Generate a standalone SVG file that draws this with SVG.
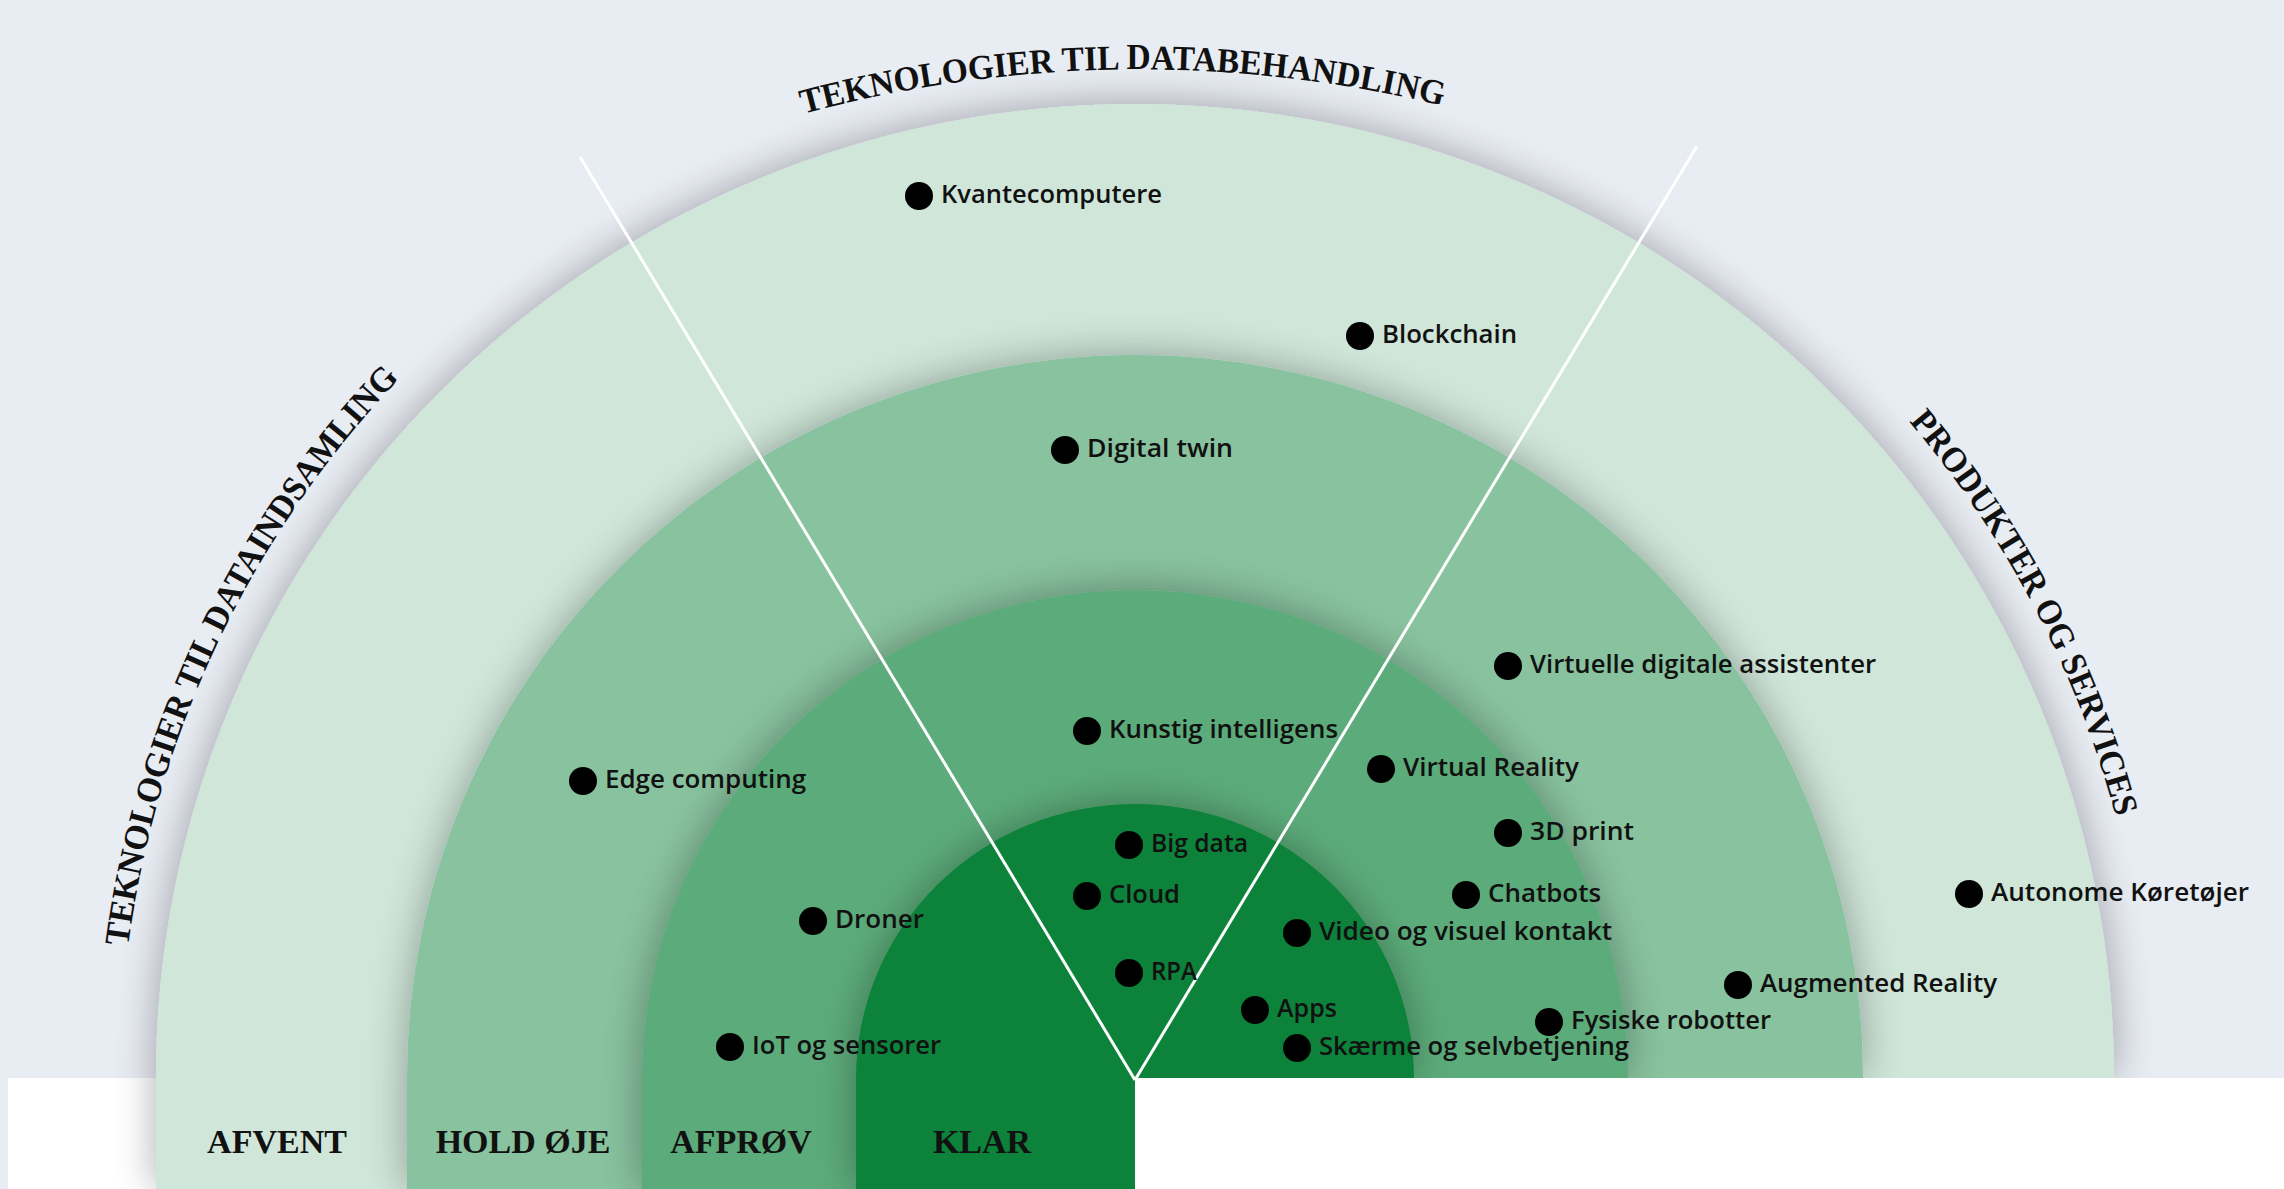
<svg xmlns="http://www.w3.org/2000/svg" width="2284" height="1189" viewBox="0 0 2284 1189">
  <style>
    .lbl { font-family: "Open Sans", "Liberation Sans", sans-serif; font-weight: 600; font-size: 26px; fill: #111; }
    .dot { fill: #000; }
    .ring-name { font-family: "Liberation Serif", "Times New Roman", serif; font-weight: bold; font-size: 34px; fill: #111; text-anchor: middle; }
    .sector { font-family: "Liberation Serif", "Times New Roman", serif; font-weight: bold; font-size: 35px; fill: #111; }
    .divider { stroke: #ffffff; stroke-width: 3; fill: none; }
  </style>
  <defs>
    <filter id="sh" x="-10%" y="-10%" width="120%" height="125%">
      <feGaussianBlur in="SourceAlpha" stdDeviation="21"/>
      <feComponentTransfer><feFuncA type="linear" slope="0.33"/></feComponentTransfer>
      <feMerge><feMergeNode/><feMergeNode in="SourceGraphic"/></feMerge>
    </filter>
    <path id="arcTop" d="M 803.2 113.8 A 1289 1289 0 0 1 1444.4 106.2"/>
    <path id="arcLeft" d="M 128.1 946.4 A 1015 1015 0 0 1 404.9 372.9"/>
    <path id="arcRight" d="M 1909 421.5 A 1015 1015 0 0 1 2115.4 815.6"/>
  </defs>

  <rect x="0" y="0" width="2284" height="1189" fill="#e8ecf3"/>
  <rect x="8" y="1078" width="2276" height="111" fill="#ffffff"/>

  <g id="ring-afvent">
    <path d="M 156 1189 V 1078 A 979 974 0 0 1 2114 1078 H 1135 V 1189 Z" fill="#d0e6d9" filter="url(#sh)"/>
  </g>
  <g id="ring-hold-oeje">
    <path d="M 407 1189 V 1078 A 728 723 0 0 1 1863 1078 H 1135 V 1189 Z" fill="#88c29e" filter="url(#sh)"/>
  </g>
  <g id="ring-afproev">
    <path d="M 642 1189 V 1078 A 493 488 0 0 1 1628 1078 H 1135 V 1189 Z" fill="#5bab7a" filter="url(#sh)"/>
  </g>
  <g id="ring-klar">
    <path d="M 856 1189 V 1078 A 279 274 0 0 1 1414 1078 H 1135 V 1189 Z" fill="#0f823a" filter="url(#sh)"/>
  </g>
  <rect x="1135" y="1078" width="1149" height="111" fill="#ffffff"/>

  <g id="ring-labels">
    <text class="ring-name" x="277" y="1153">AFVENT</text>
    <text class="ring-name" x="523" y="1153">HOLD ØJE</text>
    <text class="ring-name" x="741" y="1153">AFPRØV</text>
    <text class="ring-name" x="982" y="1153">KLAR</text>
  </g>

  <g id="connectors">
    <line class="divider" x1="580" y1="157" x2="1135" y2="1080"/>
    <line class="divider" x1="1697" y1="146" x2="1135" y2="1080"/>
  </g>

  <g id="sectors">
    <text class="sector"><textPath href="#arcTop" textLength="646" lengthAdjust="spacingAndGlyphs">TEKNOLOGIER TIL DATABEHANDLING</textPath></text>
    <text class="sector"><textPath href="#arcLeft" textLength="640" lengthAdjust="spacingAndGlyphs">TEKNOLOGIER TIL DATAINDSAMLING</textPath></text>
    <text class="sector"><textPath href="#arcRight" textLength="450" lengthAdjust="spacingAndGlyphs">PRODUKTER OG SERVICES</textPath></text>
  </g>

  <g id="n-kvantecomputere"><circle class="dot" cx="919" cy="196" r="14"/><text class="lbl" x="941" y="203" textLength="221" lengthAdjust="spacingAndGlyphs">Kvantecomputere</text></g>
  <g id="n-blockchain"><circle class="dot" cx="1360" cy="336" r="14"/><text class="lbl" x="1382" y="343" textLength="135" lengthAdjust="spacingAndGlyphs">Blockchain</text></g>
  <g id="n-digital-twin"><circle class="dot" cx="1065" cy="450" r="14"/><text class="lbl" x="1087" y="457" textLength="146" lengthAdjust="spacingAndGlyphs">Digital twin</text></g>
  <g id="n-virtuelle-digitale-assistenter"><circle class="dot" cx="1508" cy="666" r="14"/><text class="lbl" x="1530" y="673" textLength="346" lengthAdjust="spacingAndGlyphs">Virtuelle digitale assistenter</text></g>
  <g id="n-kunstig-intelligens"><circle class="dot" cx="1087" cy="731" r="14"/><text class="lbl" x="1109" y="738" textLength="229" lengthAdjust="spacingAndGlyphs">Kunstig intelligens</text></g>
  <g id="n-edge-computing"><circle class="dot" cx="583" cy="781" r="14"/><text class="lbl" x="605" y="788" textLength="201" lengthAdjust="spacingAndGlyphs">Edge computing</text></g>
  <g id="n-virtual-reality"><circle class="dot" cx="1381" cy="769" r="14"/><text class="lbl" x="1403" y="776" textLength="176" lengthAdjust="spacingAndGlyphs">Virtual Reality</text></g>
  <g id="n-3d-print"><circle class="dot" cx="1508" cy="833" r="14"/><text class="lbl" x="1530" y="840" textLength="104" lengthAdjust="spacingAndGlyphs">3D print</text></g>
  <g id="n-big-data"><circle class="dot" cx="1129" cy="845" r="14"/><text class="lbl" x="1151" y="852" textLength="97" lengthAdjust="spacingAndGlyphs">Big data</text></g>
  <g id="n-cloud"><circle class="dot" cx="1087" cy="896" r="14"/><text class="lbl" x="1109" y="903" textLength="71" lengthAdjust="spacingAndGlyphs">Cloud</text></g>
  <g id="n-chatbots"><circle class="dot" cx="1466" cy="895" r="14"/><text class="lbl" x="1488" y="902" textLength="113" lengthAdjust="spacingAndGlyphs">Chatbots</text></g>
  <g id="n-autonome-koeretoejer"><circle class="dot" cx="1969" cy="894" r="14"/><text class="lbl" x="1991" y="901" textLength="258" lengthAdjust="spacingAndGlyphs">Autonome Køretøjer</text></g>
  <g id="n-droner"><circle class="dot" cx="813" cy="921" r="14"/><text class="lbl" x="835" y="928" textLength="89" lengthAdjust="spacingAndGlyphs">Droner</text></g>
  <g id="n-video"><circle class="dot" cx="1297" cy="933" r="14"/><text class="lbl" x="1319" y="940" textLength="293" lengthAdjust="spacingAndGlyphs">Video og visuel kontakt</text></g>
  <g id="n-rpa"><circle class="dot" cx="1129" cy="973" r="14"/><text class="lbl" x="1151" y="980" textLength="46" lengthAdjust="spacingAndGlyphs">RPA</text></g>
  <g id="n-augmented-reality"><circle class="dot" cx="1738" cy="985" r="14"/><text class="lbl" x="1760" y="992" textLength="237" lengthAdjust="spacingAndGlyphs">Augmented Reality</text></g>
  <g id="n-apps"><circle class="dot" cx="1255" cy="1010" r="14"/><text class="lbl" x="1277" y="1017" textLength="60" lengthAdjust="spacingAndGlyphs">Apps</text></g>
  <g id="n-fysiske-robotter"><circle class="dot" cx="1549" cy="1022" r="14"/><text class="lbl" x="1571" y="1029" textLength="200" lengthAdjust="spacingAndGlyphs">Fysiske robotter</text></g>
  <g id="n-iot"><circle class="dot" cx="730" cy="1047" r="14"/><text class="lbl" x="752" y="1054" textLength="189" lengthAdjust="spacingAndGlyphs">IoT og sensorer</text></g>
  <g id="n-skaerme"><circle class="dot" cx="1297" cy="1048" r="14"/><text class="lbl" x="1319" y="1055" textLength="310" lengthAdjust="spacingAndGlyphs">Skærme og selvbetjening</text></g>
</svg>
